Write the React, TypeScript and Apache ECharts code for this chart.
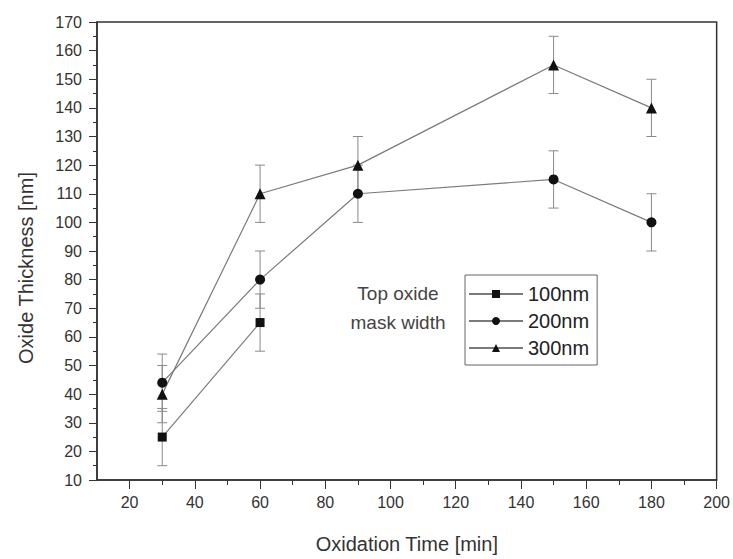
import React, { useEffect, useRef } from "react";
import * as echarts from "echarts";

const time100 = [30, 60];
const thick100 = [25, 65];
const err100 = [10, 10];

const time200 = [30, 60, 90, 150, 180];
const thick200 = [44, 80, 110, 115, 100];
const err200 = [10, 10, 10, 10, 10];

const time300 = [30, 60, 90, 150, 180];
const thick300 = [40, 110, 120, 155, 140];
const err300 = [10, 10, 10, 10, 10];

const seriesNames = ["100nm", "200nm", "300nm"];
const xMajorTicks = [20, 40, 60, 80, 100, 120, 140, 160, 180, 200];
const xMinorTicks = [30, 50, 70, 90, 110, 130, 150, 170, 190];

const FONT = "'Liberation Sans', Arial, sans-serif";

export default function App() {
  const ref = useRef<HTMLDivElement>(null);
  useEffect(() => {
    if (!ref.current) return;
    const chart = echarts.init(ref.current, null, { renderer: "svg" });

    const pts = (xs: number[], ys: number[]) => xs.map((x, i) => [x, ys[i]]);
    const errs = (xs: number[], ys: number[], es: number[]) =>
      xs.map((x, i) => [x, ys[i] - es[i], ys[i] + es[i]]);

    const errorRender = (params: any, api: any) => {
      const x = api.value(0);
      const lo = api.coord([x, api.value(1)]);
      const hi = api.coord([x, api.value(2)]);
      const w = 5;
      const st = { stroke: "#8a8a8a", lineWidth: 1 };
      return {
        type: "group",
        children: [
          { type: "line", shape: { x1: lo[0], y1: lo[1], x2: hi[0], y2: hi[1] }, style: st },
          { type: "line", shape: { x1: lo[0] - w, y1: lo[1], x2: lo[0] + w, y2: lo[1] }, style: st },
          { type: "line", shape: { x1: hi[0] - w, y1: hi[1], x2: hi[0] + w, y2: hi[1] }, style: st },
        ],
      };
    };

    const lineSeries = (name: string, data: number[][], symbol: string, size: number) => ({
      name,
      type: "line",
      data,
      symbol,
      symbolSize: size,
      lineStyle: { color: "#7a7a7a", width: 1.2 },
      itemStyle: { color: "#111" },
      z: 5,
    });

    const errSeries = (data: number[][]) => ({
      type: "custom",
      renderItem: errorRender,
      data,
      z: 3,
      silent: true,
    });

    const axisText = { color: "#333", fontSize: 16, fontFamily: FONT };

    chart.setOption({
      animation: false,
      backgroundColor: "#fff",
      grid: {
        left: 97,
        right: 16,
        top: 22,
        bottom: 72,
        show: true,
        borderColor: "#333",
        borderWidth: 1.5,
      },
      legend: {
        data: seriesNames,
        orient: "vertical",
        left: 465,
        top: 275,
        borderColor: "#666",
        borderWidth: 1,
        padding: [9, 8, 7, 3],
        itemGap: 7,
        itemWidth: 54,
        itemHeight: 10,
        textStyle: { fontSize: 20, color: "#222", fontFamily: FONT },
      },
      xAxis: [
        {
          type: "value",
          min: 10,
          max: 200,
          interval: 10,
          name: "Oxidation Time [min]",
          nameLocation: "middle",
          nameGap: 54,
          nameTextStyle: { fontSize: 20, color: "#333", fontFamily: FONT },
          axisLine: { show: true, lineStyle: { color: "#333", width: 1.5 } },
          axisTick: { show: true, length: 9, customValues: xMajorTicks, lineStyle: { color: "#333" } },
          axisLabel: { ...axisText, margin: 14, customValues: xMajorTicks },
          splitLine: { show: false },
        },
        {
          type: "value",
          min: 10,
          max: 200,
          interval: 10,
          position: "bottom",
          axisLine: { show: false },
          axisTick: { show: true, length: 5, customValues: xMinorTicks, lineStyle: { color: "#333" } },
          axisLabel: { show: false },
          splitLine: { show: false },
        },
      ],
      yAxis: {
        type: "value",
        min: 10,
        max: 170,
        interval: 10,
        axisLine: { show: true, lineStyle: { color: "#333", width: 1.5 } },
        axisTick: { show: true, length: 8, lineStyle: { color: "#333" } },
        minorTick: { show: true, splitNumber: 2, length: 4, lineStyle: { color: "#333" } },
        axisLabel: { ...axisText, margin: 15 },
        splitLine: { show: false },
        minorSplitLine: { show: false },
      },
      graphic: [
        {
          type: "text",
          x: 398,
          y: 279,
          style: {
            text: "Top oxide\nmask width",
            fontSize: 19,
            lineHeight: 29,
            fill: "#444",
            fontFamily: FONT,
            align: "center",
          },
        },
        {
          type: "text",
          x: 26,
          y: 268,
          rotation: Math.PI / 2,
          style: {
            text: "Oxide Thickness [nm]",
            fontSize: 20,
            fill: "#333",
            fontFamily: FONT,
            align: "center",
            verticalAlign: "middle",
          },
        },
      ],
      series: [
        errSeries(errs(time100, thick100, err100)),
        errSeries(errs(time200, thick200, err200)),
        errSeries(errs(time300, thick300, err300)),
        lineSeries(seriesNames[0], pts(time100, thick100), "rect", 9),
        lineSeries(seriesNames[1], pts(time200, thick200), "circle", 10),
        lineSeries(seriesNames[2], pts(time300, thick300), "triangle", 11),
      ],
    });
    return () => chart.dispose();
  }, []);
  return <div ref={ref} style={{ width: 733, height: 559, position: "absolute", left: 0, top: 0 }} />;
}
